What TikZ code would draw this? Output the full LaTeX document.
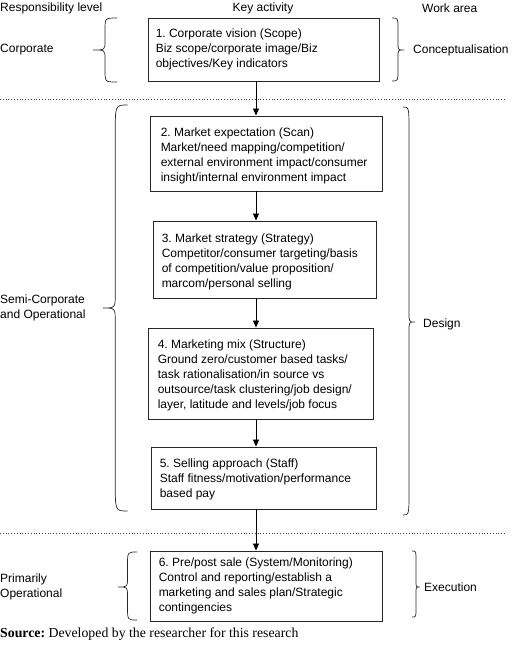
\documentclass[tikz,border=0pt]{standalone}
\usepackage{fontspec}
\setmainfont{Liberation Sans}
\newfontfamily\srcfont{Liberation Serif}
\usetikzlibrary{arrows.meta}
\frenchspacing
\newcommand\mybrace[8]{% #1 unused, #2 ends x, #3 tip x, #4 top y, #5 bottom y, #6 tip y, #7 end curl, #8 tip curl
  \draw[brc] (#2,#4) .. controls ({(#2+#3)/2},#4) .. ({(#2+#3)/2},#4+#7)
    -- ({(#2+#3)/2},#6-#8) .. controls ({(#2+#3)/2},#6) .. (#3,#6)
    .. controls ({(#2+#3)/2},#6) .. ({(#2+#3)/2},#6+#8)
    -- ({(#2+#3)/2},#5-#7) .. controls ({(#2+#3)/2},#5) .. (#2,#5);}
\tikzset{
  box/.style={draw=black!85, line width=0.9pt, inner sep=0pt},
  boxtext/.style={anchor=west, align=left, inner sep=0pt, font=\fontsize{12}{15}\selectfont},
  lbl/.style={anchor=west, align=left, inner sep=0pt, font=\fontsize{12}{15}\selectfont},
  hdr/.style={inner sep=0pt, font=\fontsize{12}{15}\selectfont},
  arr/.style={line width=0.8pt, -{Triangle[length=7pt,width=6pt]}},
  brc/.style={line width=0.7pt, black!85},
  sep/.style={dotted, line width=0.8pt, black!75}
}
\begin{document}
\begin{tikzpicture}[x=1pt,y=-1pt]
\useasboundingbox (0,0) rectangle (520,647);
% headers
\node[lbl] (h1) at (0,8) {Responsibility level};
\node[hdr] (h2) at (263,8) {Key activity};
\node[lbl] (h3) at (422,8) {Work area};
% boxes
\node[box, minimum width=231, minimum height=63] (b1) at (263.5,49.5) {};
\node[boxtext] (t1) at ([xshift=8]b1.west) {1. Corporate vision (Scope)\\Biz scope/corporate image/Biz\\objectives/Key indicators};
\node[box, minimum width=232, minimum height=75] (b2) at (266,153.5) {};
\node[boxtext] (t2) at ([xshift=11,yshift=-2]b2.west) {2. Market expectation (Scan)\\Market/need mapping/competition/\\external environment impact/consumer\\insight/internal environment impact};
\node[box, minimum width=223, minimum height=77] (b3) at (264.5,259.5) {};
\node[boxtext] (t3) at ([xshift=9,yshift=-2]b3.west) {3. Market strategy (Strategy)\\Competitor/consumer targeting/basis\\of competition/value proposition/\\marcom/personal selling};
\node[box, minimum width=225, minimum height=91] (b4) at (260.5,373.5) {};
\node[boxtext] (t4) at ([xshift=10,yshift=-2]b4.west) {4. Marketing mix (Structure)\\Ground zero/customer based tasks/\\task rationalisation/in source vs\\outsource/task clustering/job design/\\layer, latitude and levels/job focus};
\node[box, minimum width=225, minimum height=62] (b5) at (263.5,478) {};
\node[boxtext] (t5) at ([xshift=9,yshift=-1]b5.west) {5. Selling approach (Staff)\\Staff fitness/motivation/performance\\based pay};
\node[box, minimum width=232, minimum height=70] (b6) at (266,586) {};
\node[boxtext] (t6) at ([xshift=9]b6.west) {6. Pre/post sale (System/Monitoring)\\Control and reporting/establish a\\marketing and sales plan/Strategic\\contingencies};
% arrows
\coordinate (ax) at (256,0);
\draw[arr] (b1.south -| ax) -- (b2.north -| ax);
\draw[arr] (b2.south -| ax) -- (b3.north -| ax);
\draw[arr] (b3.south -| ax) -- (b4.north -| ax);
\draw[arr] (b4.south -| ax) -- (b5.north -| ax);
\draw[arr] (b5.south -| ax) -- (b6.north -| ax);
% separators
\coordinate (s1l) at (0,99); \coordinate (s1r) at (506,99);
\coordinate (s2l) at (0,533); \coordinate (s2r) at (506,533);
\draw[sep] (s1l) -- (s1r);
\draw[sep] (s2l) -- (s2r);
% braces
\mybrace{a}{117}{93}{18}{82}{50}{12}{9}
\mybrace{b}{392}{404}{18}{81}{50}{11}{7}
\mybrace{c}{127.5}{103}{105}{511}{308}{28}{14}
\mybrace{d}{403}{415}{107}{515}{322}{26}{10}
\mybrace{e}{137}{118}{552}{620}{587}{13}{9}
\mybrace{f}{412}{420}{551}{617}{587}{9}{6}
% side labels
\node[lbl] (l1) at (0,50) {Corporate};
\node[lbl] (r1) at (413,50) {Conceptualisation};
\node[lbl] (l2) at (0,308) {Semi-Corporate\\and Operational};
\node[lbl] (r2) at (423,324) {Design};
\node[lbl] (l3) at (0,587) {Primarily\\Operational};
\node[lbl] (r3) at (424,587) {Execution};
% source
\node[lbl, font=\srcfont\fontsize{13.8}{15}\selectfont] (src) at (0,634) {\textbf{Source:} Developed by the researcher for this research};
\end{tikzpicture}
\end{document}
